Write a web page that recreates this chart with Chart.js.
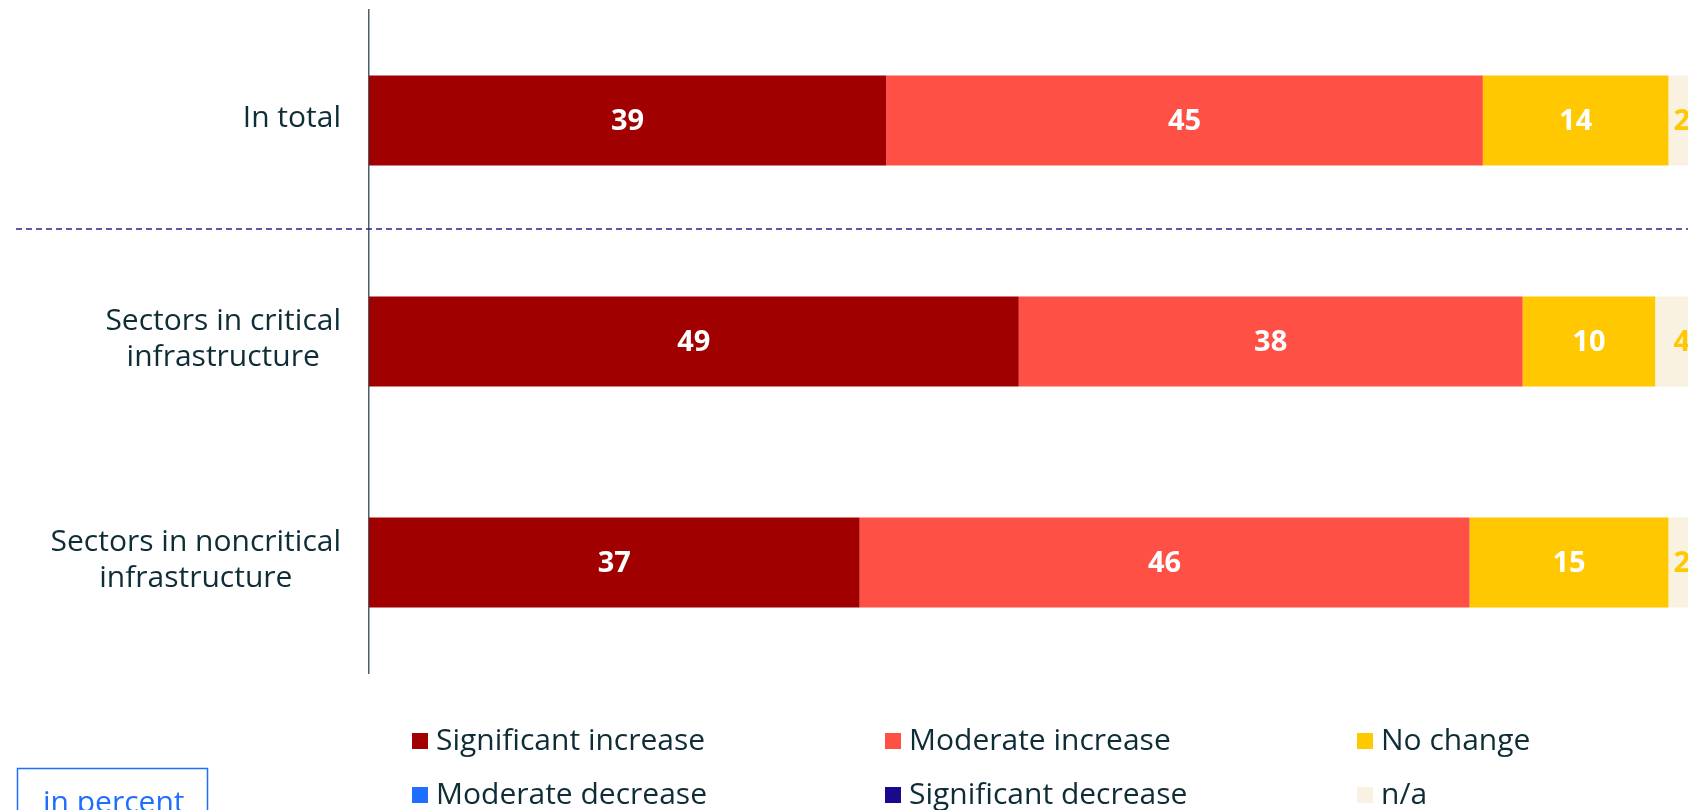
<!DOCTYPE html>
<html><head><meta charset="utf-8">
<script src="https://cdn.jsdelivr.net/npm/chart.js@4/dist/chart.umd.min.js"></script>
<style>
html,body{margin:0;padding:0;overflow:hidden;background:#fff;width:1688px;height:810px}
#wrap{position:absolute;left:0;top:0;width:1720px;height:860px}
canvas{display:block}
</style></head><body>
<div id="wrap"><canvas id="c" width="1720" height="860" style="width:1720px;height:860px"></canvas></div>
<script>
// ---- data ----
const categories = [["In total"], ["Sectors in critical", "infrastructure"], ["Sectors in noncritical", "infrastructure"]];
const seriesNames = ["Significant increase", "Moderate increase", "No change", "Moderate decrease", "Significant decrease", "n/a"];
const significantIncrease = [39, 49, 37];
const moderateIncrease = [45, 38, 46];
const noChange = [14, 10, 15];
const moderateDecrease = [0, 0, 0];
const significantDecrease = [0, 0, 0];
const notAvailable = [2, 4, 2];
const unitNote = "in percent";

// ---- styles ----
const seriesColors = ["#a00000", "#ff5046", "#ffc800", "#1e6eff", "#190a8c", "#f9f2e1"];
const labelColors = ["#ffffff", "#ffffff", "#ffffff", "#ffffff", "#ffffff", "#ffc800"];
const TEXT = "#0f2d37";
const FONT = "'Open Sans', 'Noto Sans', sans-serif";
const seriesValues = [significantIncrease, moderateIncrease, noChange, moderateDecrease, significantDecrease, notAvailable];

const datasets = seriesNames.map((name, i) => ({
  label: name,
  data: seriesValues[i],
  backgroundColor: seriesColors[i],
  borderWidth: 0,
  categoryPercentage: 1,
  barPercentage: 0.407
}));

const decorPlugin = {
  id: 'decor',
  afterDatasetsDraw(chart) {
    const ctx = chart.ctx;
    ctx.save();
    ctx.font = "bold 29px " + FONT;
    ctx.textAlign = 'center';
    ctx.textBaseline = 'middle';
    chart.data.datasets.forEach((ds, di) => {
      const meta = chart.getDatasetMeta(di);
      meta.data.forEach((bar, i) => {
        const v = ds.data[i];
        if (!v) return;
        const p = bar.getProps(['x', 'y', 'base'], true);
        ctx.fillStyle = labelColors[di];
        ctx.fillText(String(v), (p.x + p.base) / 2, p.y + 1);
      });
    });
    ctx.restore();
  },
  afterDraw(chart) {
    const ctx = chart.ctx;
    const y = chart.scales.y;
    const area = chart.chartArea;
    ctx.save();
    // category labels: block right aligned, lines centered within block
    ctx.font = "30px " + FONT;
    ctx.fillStyle = TEXT;
    ctx.textBaseline = 'middle';
    ctx.textAlign = 'center';
    const lh = 36;
    categories.forEach((lines, i) => {
      const cy = y.getPixelForValue(i);
      const w = Math.max(...lines.map(l => ctx.measureText(l).width));
      const right = area.left - 28;
      const cx = right - w / 2;
      lines.forEach((l, k) => {
        const ly = cy + (k - (lines.length - 1) / 2) * lh - 2;
        ctx.fillText(l, cx, ly);
      });
    });
    // dashed separator between first and second category
    const sepY = (y.getPixelForValue(0) + y.getPixelForValue(1)) / 2 - 2;
    ctx.strokeStyle = '#2d2387';
    ctx.lineWidth = 1.5;
    ctx.setLineDash([6, 4]);
    ctx.beginPath();
    ctx.moveTo(16, sepY);
    ctx.lineTo(chart.width, sepY);
    ctx.stroke();
    ctx.setLineDash([]);
    // legend
    const colX = [412, 885, 1357];
    const rowY = [741, 795];
    ctx.font = "30px " + FONT;
    ctx.textAlign = 'left';
    chart.data.datasets.forEach((ds, i) => {
      const cx = colX[i % 3], cy = rowY[Math.floor(i / 3)];
      ctx.fillStyle = ds.backgroundColor;
      ctx.fillRect(cx, cy - 8, 16, 16);
      ctx.fillStyle = TEXT;
      ctx.fillText(ds.label, cx + 24, cy);
    });
    // unit box
    ctx.strokeStyle = '#1e6eff';
    ctx.lineWidth = 1.5;
    ctx.strokeRect(17.5, 768.5, 190, 70);
    ctx.fillStyle = '#1e6eff';
    ctx.font = "30px " + FONT;
    ctx.textBaseline = 'alphabetic';
    ctx.fillText(unitNote, 43, 812);
    ctx.restore();
  }
};

new Chart(document.getElementById('c'), {
  type: 'bar',
  data: { labels: categories, datasets },
  options: {
    indexAxis: 'y',
    responsive: false,
    animation: false,
    devicePixelRatio: 1,
    layout: { padding: { top: 10, right: 25, bottom: 187, left: 0 } },
    plugins: { legend: { display: false }, tooltip: { enabled: false } },
    scales: {
      x: { stacked: true, min: 0, max: 100, display: false },
      y: {
        stacked: true,
        ticks: { display: false },
        grid: { display: false, drawTicks: false },
        border: { display: true, color: '#4a5f66', width: 1.5 },
        afterFit(scale) { scale.width = 369; }
      }
    }
  },
  plugins: [decorPlugin]
});
</script>
</body></html>
